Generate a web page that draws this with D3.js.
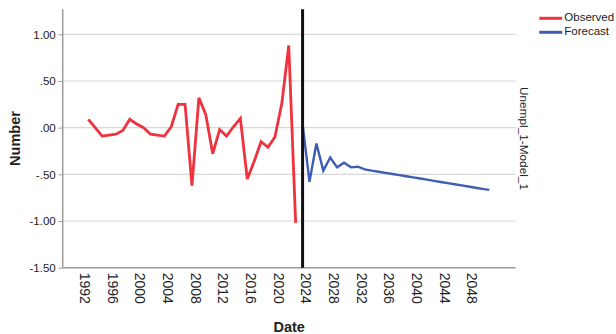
<!DOCTYPE html>
<html>
<head>
<meta charset="utf-8">
<script src="https://cdn.jsdelivr.net/npm/d3@7"></script>
<style>
  html, body { margin: 0; padding: 0; background: #fff; }
  svg { display: block; }
  text { font-family: Arial, "Liberation Sans", sans-serif; fill: #222; }
</style>
</head>
<body>
<svg id="chart" width="616" height="334"></svg>
<script>
// Observed series (yearly)
const observedYears = [1993, 1994, 1995, 1996, 1997, 1998, 1999, 2000, 2001, 2002,
  2003, 2004, 2005, 2006, 2007, 2008, 2009, 2010, 2011, 2012,
  2013, 2014, 2015, 2016, 2017, 2018, 2019, 2020, 2021, 2022, 2023];
const observedValues = [0.09, 0.00, -0.09, -0.08, -0.07, -0.03, 0.09, 0.04, 0.00, -0.07,
  -0.08, -0.09, 0.01, 0.25, 0.25, -0.62, 0.32, 0.14, -0.28, -0.02,
  -0.09, 0.01, 0.10, -0.55, -0.36, -0.15, -0.21, -0.10, 0.26, 0.88, -1.02];

// Model forecast (yearly)
const forecastYears = [2024, 2025, 2026, 2027, 2028, 2029, 2030, 2031, 2032, 2033,
  2034, 2035, 2036, 2037, 2038, 2039, 2040, 2041, 2042, 2043,
  2044, 2045, 2046, 2047, 2048, 2049, 2050, 2051];
const forecastValues = [0.04, -0.58, -0.17, -0.46, -0.32, -0.425, -0.375, -0.425, -0.418, -0.446,
  -0.46, -0.472, -0.484, -0.496, -0.509, -0.521, -0.533, -0.545, -0.557, -0.570,
  -0.582, -0.594, -0.606, -0.618, -0.630, -0.643, -0.655, -0.667];

// Axis ticks and labels
const yTicks = [1.0, 0.5, 0.0, -0.5, -1.0, -1.5];
const yTickLabels = ["1.00", ".50", ".00", "-.50", "-1.00", "-1.50"];
const xTicks = [1992, 1996, 2000, 2004, 2008, 2012, 2016, 2020, 2024, 2028, 2032, 2036, 2040, 2044, 2048];
const forecastStart = 2024;

const legendLabels = ["Observed", "Forecast"];
const seriesColors = ["#ee323e", "#3e5db3"];

const svg = d3.select("#chart");

const plot = { left: 62.7, right: 515.7, top: 9.3, bottom: 267.7 };

const x = d3.scaleLinear().domain([1989.3, 2054.83]).range([plot.left, plot.right]);
const y = d3.scaleLinear().domain([-1.5, 1.268]).range([plot.bottom, plot.top]);

// Horizontal gridlines
svg.append("g")
  .selectAll("line")
  .data(yTicks.filter(v => v > -1.5))
  .join("line")
  .attr("x1", plot.left).attr("x2", plot.right)
  .attr("y1", d => y(d)).attr("y2", d => y(d))
  .attr("stroke", "#d8d8d8").attr("stroke-width", 1.2);

// Y axis
const yAxis = d3.axisLeft(y)
  .tickValues(yTicks)
  .tickFormat((d, i) => yTickLabels[i])
  .tickSize(4)
  .tickPadding(3);
const yg = svg.append("g").attr("transform", `translate(${plot.left},0)`).call(yAxis);
yg.select(".domain").remove();
yg.selectAll(".tick line").attr("stroke", "#9a9a9a");
yg.selectAll(".tick text")
  .style("font-size", "11.5px")
  .attr("fill", "#222");
yg.append("line")
  .attr("x1", 0).attr("x2", 0)
  .attr("y1", plot.top).attr("y2", plot.bottom)
  .attr("stroke", "#9a9a9a").attr("stroke-width", 1.5);

// X axis with vertical year labels
const xAxis = d3.axisBottom(x)
  .tickValues(xTicks)
  .tickFormat(d3.format("d"))
  .tickSize(0);
const xg = svg.append("g").attr("transform", `translate(0,${plot.bottom})`).call(xAxis);
xg.select(".domain").remove();
xg.append("line")
  .attr("x1", plot.left).attr("x2", plot.right)
  .attr("y1", 0).attr("y2", 0)
  .attr("stroke", "#9a9a9a").attr("stroke-width", 1.5);
xg.selectAll(".tick text")
  .style("font-size", "14px")
  .attr("fill", "#222")
  .attr("text-anchor", "start")
  .attr("dy", null)
  .attr("y", 0)
  .attr("dominant-baseline", "middle")
  .attr("transform", "translate(2,5) rotate(90)");

// Series lines
const line = d3.line()
  .x(d => x(d[0]))
  .y(d => y(d[1]));

svg.append("path")
  .datum(d3.zip(observedYears, observedValues))
  .attr("d", line)
  .attr("fill", "none")
  .attr("stroke", seriesColors[0])
  .attr("stroke-width", 2.8)
  .attr("stroke-linejoin", "miter");

svg.append("path")
  .datum(d3.zip(forecastYears, forecastValues))
  .attr("d", line)
  .attr("fill", "none")
  .attr("stroke", seriesColors[1])
  .attr("stroke-width", 2.4)
  .attr("stroke-linejoin", "miter");

// Reference line at the start of the forecast
svg.append("line")
  .attr("x1", x(forecastStart)).attr("x2", x(forecastStart))
  .attr("y1", plot.top).attr("y2", plot.bottom)
  .attr("stroke", "#111").attr("stroke-width", 3);

// Axis titles
svg.append("text")
  .attr("transform", `translate(20,${(plot.top + plot.bottom) / 2}) rotate(-90)`)
  .attr("text-anchor", "middle")
  .style("font-size", "14.5px")
  .style("font-weight", "bold")
  .text("Number");

svg.append("text")
  .attr("x", (plot.left + plot.right) / 2)
  .attr("y", 332)
  .attr("text-anchor", "middle")
  .style("font-size", "14.5px")
  .style("font-weight", "bold")
  .text("Date");

// Model name on the right
svg.append("text")
  .attr("transform", `translate(519.5,${(plot.top + plot.bottom) / 2}) rotate(90)`)
  .attr("text-anchor", "middle")
  .style("font-size", "11.8px")
  .text("Unempl_1-Model_1");

// Legend
const legend = svg.append("g").attr("transform", "translate(539.3,18.3)");
legendLabels.forEach((label, i) => {
  const g = legend.append("g").attr("transform", `translate(0,${i * 14})`);
  g.append("line")
    .attr("x1", 0).attr("x2", 23)
    .attr("stroke", seriesColors[i]).attr("stroke-width", 3);
  g.append("text")
    .attr("x", 25)
    .attr("dominant-baseline", "middle")
    .style("font-size", "11.5px")
    .text(label);
});
</script>
</body>
</html>
